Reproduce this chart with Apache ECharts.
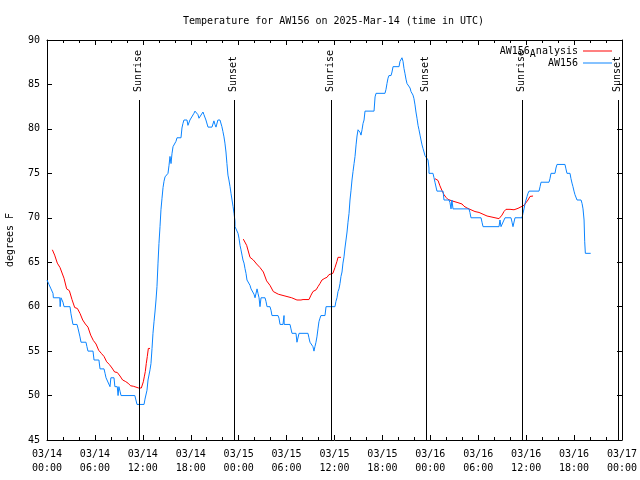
<!DOCTYPE html>
<html><head><meta charset="utf-8">
<script src="https://cdn.jsdelivr.net/npm/echarts@6/dist/echarts.min.js"></script>
<style>html,body{margin:0;padding:0;background:#fff}#c{width:640px;height:480px}</style>
</head><body><div id="c"></div>
<script>
// ---- data (x = hours since 2025-03-14 00:00 UTC, y = degrees F) ----
const titleText = 'Temperature for AW156 on 2025-Mar-14 (time in UTC)';
const yAxisTitle = 'degrees F';
const xTickLabels = ['03/14\n00:00','03/14\n06:00','03/14\n12:00','03/14\n18:00','03/15\n00:00','03/15\n06:00','03/15\n12:00','03/15\n18:00','03/16\n00:00','03/16\n06:00','03/16\n12:00','03/16\n18:00','03/17\n00:00'];
const sunEvents = [[11.53,'Sunrise'],[23.47,'Sunset'],[35.57,'Sunrise'],[47.40,'Sunset'],[59.50,'Sunrise'],[71.50,'Sunset']];
const sunLineTop = 83.25;

const observed = [[0.0,63],[0.25,62.5],[0.5,62],[0.75,61.5],[0.8,61],[1.6,61],[1.65,60],[1.75,61],[1.9,61],[2.0,60.5],[2.13,60],[2.88,60],[3.0,59.2],[3.25,58],[3.76,58],[3.9,57.5],[4.13,56.6],[4.26,56],[4.88,56],[5.0,55.5],[5.13,55],[5.76,55],[5.89,54],[6.5,54],[6.64,53],[7.14,53],[7.27,52.5],[7.39,52],[7.64,52],[7.89,51],[8.0,52],[8.39,52],[8.5,51],[8.8,51],[8.9,50],[9.0,51],[9.14,50.5],[9.27,50],[11.0,50],[11.27,49],[12.15,49],[12.27,49.6],[12.52,50.6],[12.65,51.75],[12.9,52.9],[13.02,53.6],[13.15,55.3],[13.27,57],[13.4,58.3],[13.52,59.4],[13.65,60.75],[13.77,62.25],[13.9,64.9],[14.02,67.1],[14.15,69],[14.27,70.9],[14.4,72.2],[14.53,73.4],[14.65,74.1],[14.78,74.6],[15.15,75],[15.28,75.9],[15.4,76.9],[15.53,76.1],[15.65,77.2],[15.78,78],[16.03,78.2],[16.15,78.6],[16.28,79],[16.78,79],[16.9,80.1],[17.02,80.6],[17.15,81],[17.53,81],[17.65,80.4],[17.9,81],[18.15,81.2],[18.4,81.75],[18.53,82],[18.78,82],[18.9,81.6],[19.03,81.2],[19.28,81.2],[19.53,81.9],[19.65,81.6],[19.9,81],[20.16,80.2],[20.66,80.2],[20.9,80.9],[21.03,80.5],[21.16,80.2],[21.4,81],[21.66,81],[21.78,80.8],[21.9,80.25],[22.03,79.7],[22.16,79.1],[22.28,78.4],[22.41,77.4],[22.53,76.1],[22.66,74.8],[22.78,74.25],[22.92,73.5],[23.04,72.75],[23.17,72],[23.3,71.25],[23.42,70.5],[23.54,69.6],[23.54,69],[23.79,69],[23.92,68.25],[24.04,67.7],[24.17,66.9],[24.29,66.4],[24.42,65.8],[24.54,65.25],[24.67,64.9],[24.79,64.3],[24.92,63.75],[25.04,63],[25.29,63],[25.42,62.4],[25.55,62],[25.8,62],[25.92,61.4],[26.05,61],[26.3,62],[26.42,61.5],[26.55,61],[26.67,60],[26.8,61],[27.3,61],[27.42,60.6],[27.55,60],[27.92,60],[28.05,59.6],[28.17,59],[28.93,59],[29.05,58.7],[29.18,58],[29.55,58],[29.68,59],[29.7,58],[30.43,58],[30.55,57.5],[30.68,57],[31.18,57],[31.3,56],[31.56,57],[32.68,57],[32.8,56.5],[32.93,56],[33.18,56],[33.3,55.5],[33.43,55],[33.55,55.5],[33.68,56],[33.8,56.6],[33.93,57.5],[34.05,58.3],[34.18,58.7],[34.3,59],[34.81,59],[34.94,60],[36.06,60],[36.18,60.6],[36.31,61],[36.44,61.7],[36.56,62],[36.69,62.6],[36.81,63.4],[36.94,63.9],[37.06,64.9],[37.19,65.6],[37.31,66.6],[37.44,67.5],[37.57,68.4],[37.69,69.5],[37.82,70.5],[37.94,72],[38.07,73.1],[38.19,74.25],[38.32,75.2],[38.45,76.1],[38.57,76.9],[38.7,78.2],[38.82,79.2],[38.95,79.9],[39.07,80],[39.2,79.6],[39.32,79.3],[39.45,79.9],[39.57,80.6],[39.7,81],[39.82,82],[40.95,82],[41.08,83.6],[41.2,84],[42.32,84],[42.45,84.45],[42.57,85.1],[42.7,85.7],[42.82,86],[43.08,86],[43.2,86.4],[43.33,87],[44.08,87],[44.2,87.6],[44.33,87.8],[44.45,88],[44.58,87.6],[44.7,86.8],[44.83,86.2],[44.95,85.6],[45.08,85.1],[45.33,84.9],[45.46,84.6],[45.58,84.2],[45.83,83.8],[45.95,83.4],[46.08,82.7],[46.2,81.9],[46.33,81.2],[46.46,80.4],[46.58,79.9],[46.71,79.3],[46.83,78.75],[46.96,78.2],[47.08,77.8],[47.21,77.4],[47.33,77],[47.58,77],[47.71,76.5],[47.83,75.6],[47.83,75],[48.33,75],[48.46,74.5],[48.58,74],[48.71,74],[48.83,73],[49.59,73],[49.71,72],[50.34,72],[50.46,71.7],[50.59,71],[50.7,72],[50.84,71],[52.84,71],[52.96,70.6],[53.09,70],[54.35,70],[54.47,69.5],[54.6,69],[56.6,69],[56.72,69.75],[56.85,69],[57.1,69],[57.35,70],[58.1,70],[58.23,69.5],[58.35,69],[58.6,70],[59.48,70],[59.6,70.5],[59.73,71],[59.86,71.6],[59.98,72],[60.11,72.4],[60.23,72.75],[60.36,73],[61.61,73],[61.74,73.5],[61.86,74],[62.86,74],[62.98,74.4],[63.11,75],[63.61,75],[63.73,75.6],[63.86,76],[64.86,76],[64.98,75.5],[65.11,75],[65.49,75],[65.61,74.4],[65.74,73.9],[65.86,73.5],[65.99,73],[66.11,72.6],[66.24,72.4],[66.37,72],[66.87,72],[67.0,71.6],[67.12,71],[67.25,69.75],[67.33,67.3],[67.41,66],[68.08,66]];

const analysisDay1 = [[0.67,66.4],[0.96,65.8],[1.29,64.9],[1.63,64.4],[1.8,64.3],[2.13,63.2],[2.46,62],[2.8,61.8],[3.13,60.8],[3.47,59.9],[3.8,59.8],[4.13,59.25],[4.47,58.5],[4.8,58.05],[5.13,57.7],[5.47,56.8],[5.8,56.2],[6.14,55.8],[6.47,55.1],[6.8,54.75],[7.14,54.4],[7.47,53.8],[7.8,53.5],[8.14,53.1],[8.47,52.65],[8.8,52.6],[9.14,52.2],[9.47,51.75],[9.8,51.6],[10.14,51.4],[10.47,51.1],[10.8,51.05],[11.14,50.95],[11.48,50.85],[11.81,50.85],[11.93,51],[12.06,51.55],[12.18,52.1],[12.31,52.7],[12.43,53.6],[12.56,54.4],[12.69,55.3],[12.9,55.3]];
const analysisDay2 = [[24.58,67.6],[24.75,67.5],[25.0,66.9],[25.42,65.55],[25.84,65.25],[26.25,64.8],[26.67,64.4],[27.09,63.9],[27.5,62.9],[27.92,62.4],[28.34,61.7],[28.97,61.4],[29.8,61.2],[30.64,61.0],[31.3,60.75],[31.8,60.75],[32.06,60.8],[32.8,60.8],[33.06,61.3],[33.3,61.7],[33.7,61.9],[33.93,62.25],[34.18,62.6],[34.43,63],[34.8,63.2],[35.06,63.3],[35.3,63.6],[35.8,63.75],[36.06,64.4],[36.31,65.1],[36.44,65.55],[36.81,65.55]];
const analysisDay3 = [[48.58,74.4],[48.96,74.2],[49.2,73.6],[49.46,73.05],[49.71,72.6],[49.96,72.3],[50.21,72.07],[50.46,71.9],[50.71,71.9],[50.96,71.8],[51.46,71.7],[51.97,71.55],[52.22,71.3],[52.59,71.1],[53.09,70.9],[53.59,70.7],[54.1,70.6],[54.6,70.4],[55.1,70.2],[55.6,70.1],[56.1,70.0],[56.6,69.9],[56.72,69.9],[56.97,70.3],[57.22,70.7],[57.47,70.95],[57.98,70.95],[58.48,70.9],[58.73,70.9],[58.98,71.06],[59.23,71.2],[59.73,71.4],[59.98,71.6],[60.23,72],[60.48,72.4],[60.86,72.45]];

// ---- chart ----
const FONT = 'DejaVu Sans Mono';
const RED = '#ff0000', BLUE = '#0a84ff';
const chart = echarts.init(document.getElementById('c'), null, {renderer:'canvas'});

function xAxisCfg(pos, showLabels){
  return {
    type:'value', position:pos, min:0, max:72, interval:6,
    axisLine:{show:true, onZero:false, lineStyle:{color:'#000', width:1}},
    axisTick:{show:true, inside:true, length:5, lineStyle:{color:'#000'}},
    minorTick:{show:true, splitNumber:3, length:3, lineStyle:{color:'#000'}},
    splitLine:{show:false},
    axisLabel:{show:showLabels, margin:7, fontFamily:FONT, fontSize:10, color:'#000', lineHeight:14,
      showMinLabel:true, showMaxLabel:true, hideOverlap:false,
      formatter:v => xTickLabels[Math.round(v/6)]}
  };
}
function yAxisCfg(pos, showLabels){
  return {
    type:'value', position:pos, min:45, max:90, interval:5,
    axisLine:{show:true, onZero:false, lineStyle:{color:'#000', width:1}},
    axisTick:{show:true, inside:true, length:5, lineStyle:{color:'#000'}},
    splitLine:{show:false},
    axisLabel:{show:showLabels, margin:7, fontFamily:FONT, fontSize:10, color:'#000'},
    name: showLabels ? yAxisTitle : '', nameLocation:'middle', nameGap:32, nameRotate:90,
    nameTextStyle:{fontFamily:FONT, fontSize:10, color:'#000'}
  };
}

const lineSeries = (name, data, color, z) => ({
  type:'line', name, data, xAxisIndex:0, yAxisIndex:0, showSymbol:false, symbol:'none',
  lineStyle:{color, width:1}, itemStyle:{color}, animation:false, z
});

chart.setOption({
  backgroundColor:'#fff',
  animation:false,
  title:{text:titleText, left:183, top:16, padding:0,
    textStyle:{fontFamily:FONT, fontSize:10, fontWeight:'normal', color:'#000'}},
  grid:{left:47, right:18, top:40, bottom:40, containLabel:false, outerBoundsMode:'none'},
  xAxis:[xAxisCfg('bottom', true), xAxisCfg('top', false)],
  yAxis:[yAxisCfg('left', true), yAxisCfg('right', false)],
  legend:{
    orient:'vertical', right:28, top:46, align:'right', icon:'rect', padding:0,
    itemWidth:29, itemHeight:1, itemGap:-1,
    data:['AW156_Analysis','AW156'],
    formatter: n => n === 'AW156_Analysis' ? '{a|AW156}{s|A}{a|nalysis}' : '{a|' + n + '}',
    textStyle:{fontFamily:FONT, fontSize:10, color:'#000',
      rich:{a:{fontFamily:FONT, fontSize:10, color:'#000', lineHeight:16, verticalAlign:'middle'},
            s:{fontFamily:FONT, fontSize:10, color:'#000', lineHeight:16, verticalAlign:'bottom'}}}
  },
  series:[
    lineSeries('AW156_Analysis', analysisDay1, RED, 2),
    lineSeries('AW156_Analysis', analysisDay2, RED, 2),
    lineSeries('AW156_Analysis', analysisDay3, RED, 2),
    lineSeries('AW156', observed, BLUE, 3),
    {
      type:'custom', name:'sun', xAxisIndex:0, yAxisIndex:0, z:4, clip:false,
      data: sunEvents.map(e => [e[0], sunLineTop]),
      encode:{x:0, y:1},
      renderItem:(params, api) => {
        const top = api.coord([api.value(0), api.value(1)]);
        const bot = api.coord([api.value(0), 45]);
        const x = Math.round(top[0]) + 0.5;
        const name = sunEvents[params.dataIndex][1];
        return {type:'group', children:[
          {type:'line', shape:{x1:x, y1:top[1], x2:x, y2:bot[1]}, style:{stroke:'#000', lineWidth:1}},
          {type:'text', x:x - 1, y:top[1]-8, rotation:Math.PI/2,
            style:{text:name, align:'left', verticalAlign:'middle', font:'10px "' + FONT + '"', fill:'#000'}}
        ]};
      }
    }
  ]
});
</script></body></html>
